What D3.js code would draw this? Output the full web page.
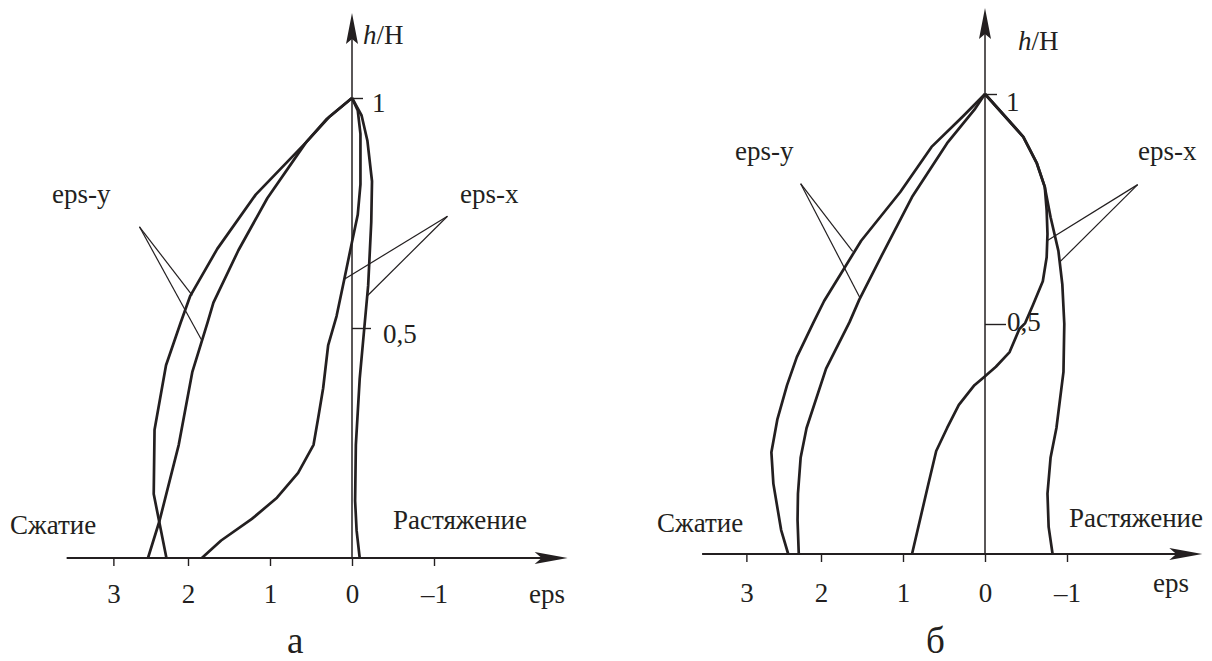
<!DOCTYPE html>
<html>
<head>
<meta charset="utf-8">
<script src="https://cdn.jsdelivr.net/npm/d3@7"></script>
<style>
  body { margin: 0; background: #fff; }
  svg { display: block; }
  text { font-family: "Liberation Serif", "Times New Roman", Times, "DejaVu Serif", serif; fill: #231f20; }
</style>
</head>
<body>
<svg id="chart" width="1212" height="661"></svg>
<script>
// Tick values and labels (the "3" tick sits a little short of 3 in the original)
const xTicks = [2.91, 2, 1, 0, -1];
const xTickLabels = ['3', '2', '1', '0', '\u20131'];
const yTicks = [1, 0.5];
const yTickLabels = ['1', '0,5'];

// Panel а: curves as [eps, h/H]
const aEpsYOuter = [[0,1],[0.305,0.955],[0.563,0.903],[1.174,0.79],[1.643,0.672],[1.972,0.57],[2.089,0.512],[2.268,0.419],[2.408,0.279],[2.418,0.139],[2.263,0]];
const aEpsYInner = [[0,1],[0.282,0.958],[0.563,0.903],[1.033,0.782],[1.385,0.669],[1.69,0.555],[1.761,0.512],[1.948,0.404],[2.113,0.246],[2.347,0.081],[2.488,0]];
const aEpsXLeft  = [[0,1],[-0.07,0.973],[-0.103,0.922],[-0.103,0.812],[-0.07,0.746],[0,0.687],[0.094,0.606],[0.188,0.526],[0.291,0.462],[0.352,0.369],[0.413,0.304],[0.469,0.246],[0.657,0.185],[0.915,0.131],[1.221,0.085],[1.596,0.038],[1.831,0]];
const aEpsXRight = [[0,1],[-0.117,0.962],[-0.188,0.907],[-0.244,0.819],[-0.235,0.731],[-0.197,0.592],[-0.15,0.5],[-0.094,0.39],[-0.047,0.246],[-0.038,0.124],[-0.056,0.06],[-0.094,0]];
// leader lines: [start, end1, end2]
const aLeaderY = [[2.592,0.72],[1.948,0.571],[1.831,0.473]];
const aLeaderX = [[-1.164,0.743],[0.094,0.606],[-0.188,0.57]];

// Panel б
const bEpsYOuter = [[0,1],[0.271,0.951],[0.652,0.885],[1.033,0.787],[1.51,0.681],[1.962,0.55],[2.09,0.504],[2.295,0.428],[2.414,0.367],[2.533,0.292],[2.605,0.221],[2.581,0.153],[2.486,0.052],[2.4,0]];
const bEpsYInner = [[0,1],[0.129,0.966],[0.462,0.893],[0.89,0.776],[1.271,0.645],[1.533,0.553],[1.652,0.504],[1.938,0.403],[2.176,0.274],[2.248,0.21],[2.281,0.131],[2.286,0.074],[2.271,0]];
const bEpsXLeft  = [[0,1],[-0.467,0.907],[-0.633,0.849],[-0.729,0.798],[-0.752,0.747],[-0.762,0.696],[-0.752,0.645],[-0.705,0.593],[-0.586,0.542],[-0.49,0.502],[-0.419,0.489],[-0.3,0.439],[-0.133,0.407],[0.01,0.385],[0.129,0.367],[0.319,0.324],[0.462,0.274],[0.595,0.224],[0.7,0.145],[0.89,0]];
const bEpsXRight = [[0,1],[-0.467,0.907],[-0.633,0.849],[-0.729,0.798],[-0.8,0.732],[-0.895,0.659],[-0.943,0.586],[-0.967,0.5],[-0.957,0.396],[-0.871,0.274],[-0.8,0.21],[-0.762,0.131],[-0.776,0.059],[-0.824,0]];
const bLeaderY = [[2.248,0.805],[1.614,0.658],[1.519,0.555]];
const bLeaderX = [[-1.862,0.803],[-0.767,0.682],[-0.919,0.636]];

const svg = d3.select('#chart');
const ink = '#231f20';
const serif = '"Liberation Serif", "Times New Roman", Times, serif';

function drawPanel(opt) {
    const x = d3.scaleLinear().domain([0, -1]).range([opt.x0, opt.x0 + opt.unit]);
    const y = d3.scaleLinear().domain([0, 1]).range([opt.y0, opt.y1]);
    const g = svg.append('g');

    // x axis line with arrow
    const xEnd = x(opt.xMax);
    g.append('line')
        .attr('x1', x(opt.xMin)).attr('x2', xEnd - 20)
        .attr('y1', y(0)).attr('y2', y(0))
        .attr('stroke', ink).attr('stroke-width', 2);
    g.append('path')
        .attr('d', `M${xEnd},${y(0)} L${xEnd - 33},${y(0) - 6} L${xEnd - 26},${y(0)} L${xEnd - 33},${y(0) + 6} Z`)
        .attr('fill', ink);

    // y axis line with arrow
    const yEnd = y(opt.yMax);
    g.append('line')
        .attr('x1', x(0)).attr('x2', x(0))
        .attr('y1', y(0)).attr('y2', yEnd + 20)
        .attr('stroke', ink).attr('stroke-width', 1.5);
    g.append('path')
        .attr('d', `M${x(0)},${yEnd} L${x(0) - 6},${yEnd + 31} L${x(0)},${yEnd + 26} L${x(0) + 6},${yEnd + 31} Z`)
        .attr('fill', ink);

    // x ticks
    const xAxis = d3.axisBottom(x)
        .tickValues(xTicks)
        .tickSize(8)
        .tickPadding(0)
        .tickFormat((d, i) => xTickLabels[i]);
    const xa = g.append('g')
        .attr('transform', `translate(0,${y(0)})`)
        .call(xAxis);
    xa.select('.domain').remove();
    xa.selectAll('line').attr('stroke', ink).attr('stroke-width', 1.4);
    xa.selectAll('text')
        .attr('font-family', serif)
        .attr('font-size', 27).attr('fill', ink)
        .attr('y', opt.xLabelY).attr('dy', null);

    // y ticks: the 0,5 tick is longer than the 1 tick
    const yAxis = d3.axisRight(y)
        .tickValues(yTicks)
        .tickSize(opt.yTickLen[0])
        .tickFormat((d, i) => yTickLabels[i]);
    const ya = g.append('g')
        .attr('transform', `translate(${x(0)},0)`)
        .call(yAxis);
    ya.select('.domain').remove();
    ya.selectAll('.tick line')
        .attr('x2', (d, i) => opt.yTickLen[i])
        .attr('stroke', ink).attr('stroke-width', 1.4);
    ya.selectAll('.tick text')
        .attr('font-family', serif)
        .attr('font-size', 27).attr('fill', ink)
        .attr('x', (d, i) => opt.yLabelX[i])
        .attr('dy', null)
        .attr('y', (d, i) => opt.yLabelDy[i]);

    // curves
    const line = d3.line().x(d => x(d[0])).y(d => y(d[1]));
    opt.curves.forEach(c => {
        g.append('path')
            .datum(c)
            .attr('fill', 'none')
            .attr('stroke', ink)
            .attr('stroke-width', 2.7)
            .attr('stroke-linejoin', 'round')
            .attr('d', line);
    });

    // leader lines
    opt.leaders.forEach(l => {
        [l[1], l[2]].forEach(end => {
            g.append('line')
                .attr('x1', x(l[0][0])).attr('y1', y(l[0][1]))
                .attr('x2', x(end[0])).attr('y2', y(end[1]))
                .attr('stroke', ink).attr('stroke-width', 1.2);
        });
    });

    // labels
    const hLabel = g.append('text')
        .attr('x', opt.hLabel[0]).attr('y', opt.hLabel[1])
        .attr('font-size', 27);
    hLabel.append('tspan').attr('font-style', 'italic').text('h');
    hLabel.append('tspan').text('/H');

    opt.texts.forEach(t => {
        g.append('text')
            .attr('x', t[1]).attr('y', t[2])
            .attr('font-size', t[3] || 27)
            .text(t[0]);
    });
}

drawPanel({
    x0: 352, unit: 82, y0: 558, y1: 98,
    xMin: 3.48, xMax: -2.63, yMax: 1.185,
    xLabelY: 45,
    yTickLen: [11, 19], yLabelX: [20, 31], yLabelDy: [13, 14],
    curves: [aEpsYOuter, aEpsYInner, aEpsXLeft, aEpsXRight],
    leaders: [aLeaderY, aLeaderX],
    hLabel: [363, 44],
    texts: [
        ['eps-y', 52, 203],
        ['eps-x', 460, 203],
        ['Сжатие', 10, 534],
        ['Растяжение', 393, 529],
        ['eps', 529, 603],
        ['а', 287, 653, 37]
    ]
});

drawPanel({
    x0: 985, unit: 82, y0: 554, y1: 94,
    xMin: 3.45, xMax: -2.65, yMax: 1.187,
    xLabelY: 48,
    yTickLen: [12, 21], yLabelX: [21, 22], yLabelDy: [16, 6],
    curves: [bEpsYOuter, bEpsYInner, bEpsXLeft, bEpsXRight],
    leaders: [bLeaderY, bLeaderX],
    hLabel: [1018, 50],
    texts: [
        ['eps-y', 735, 160],
        ['eps-x', 1138, 160],
        ['Сжатие', 657, 532],
        ['Растяжение', 1069, 527],
        ['eps', 1153, 592],
        ['б', 926, 653, 37]
    ]
});
</script>
</body>
</html>
